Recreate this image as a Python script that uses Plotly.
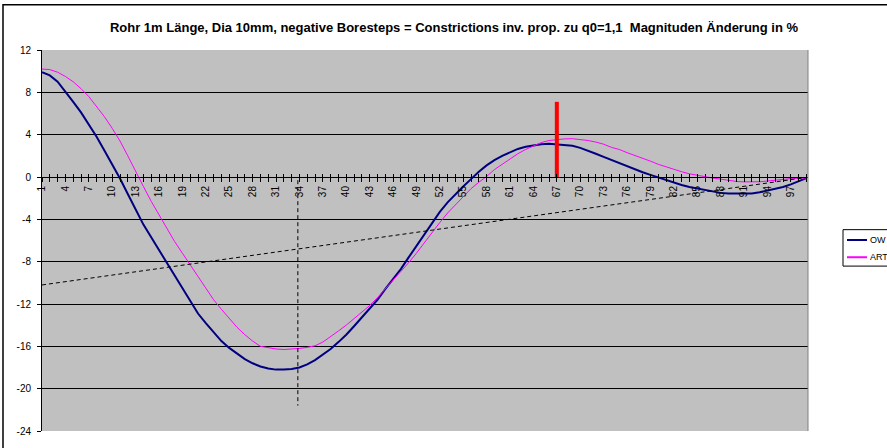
import plotly.graph_objects as go

# Category index along the pipe (1 .. 99)
categories = list(range(1, 100))

# Magnitude change in % for the two series
ow_values = [
    9.9, 9.6, 9.0, 8.1, 7.1, 6.1, 5.0, 3.8, 2.5, 1.2,
    -0.15, -1.6, -3.1, -4.5, -5.7, -6.9, -8.1, -9.3, -10.6, -11.8,
    -12.9, -13.8, -14.7, -15.5, -16.15, -16.7, -17.2, -17.6, -17.9, -18.1,
    -18.2, -18.2, -18.15, -18.0, -17.7, -17.3, -16.8, -16.25, -15.6, -14.9,
    -14.1, -13.3, -12.5, -11.6, -10.6, -9.7, -8.7, -7.6, -6.5, -5.5,
    -4.3, -3.3, -2.4, -1.6, -0.9, -0.2, 0.5, 1.1, 1.6, 2.0,
    2.35, 2.65, 2.85, 3.0, 3.1, 3.15, 3.1, 3.05, 2.95, 2.75,
    2.5, 2.2, 1.9, 1.6, 1.3, 1.0, 0.7, 0.45, 0.2, -0.05,
    -0.3, -0.55, -0.75, -0.95, -1.1, -1.25, -1.4, -1.5, -1.55, -1.57,
    -1.57, -1.55, -1.45, -1.3, -1.15, -0.95, -0.7, -0.4, -0.1,
]
art_values = [
    10.2, 10.15, 9.9, 9.5, 9.0, 8.35, 7.6, 6.7, 5.7, 4.6,
    3.4, 2.0, 0.5, -0.9, -2.3, -3.6, -4.9, -6.1, -7.2, -8.3,
    -9.4, -10.5, -11.6, -12.5, -13.4, -14.2, -14.9, -15.5, -16.0, -16.15,
    -16.25, -16.3, -16.28, -16.2, -16.1, -15.95, -15.6, -15.1, -14.55, -14.0,
    -13.4, -12.8, -12.15, -11.4, -10.6, -9.8, -9.0, -8.1, -7.2, -6.2,
    -5.2, -4.3, -3.4, -2.6, -1.8, -1.1, -0.5, 0.05, 0.7, 1.2,
    1.7, 2.2, 2.6, 2.95, 3.25, 3.45, 3.55, 3.6, 3.62, 3.55,
    3.45, 3.3, 3.1, 2.8, 2.6, 2.3, 2.05, 1.75, 1.5, 1.2,
    0.95, 0.7, 0.5, 0.3, 0.15, 0.0, -0.1, -0.2, -0.33, -0.42,
    -0.46, -0.47, -0.45, -0.38, -0.28, -0.2, -0.15, -0.12, -0.1,
]
series_names = ["OW", "ART"]

# Marker lines drawn over the curves
trend_x = [1, 99]
trend_y = [-10.2, -0.05]
min_marker_x = [33.8, 33.8]
min_marker_y = [-0.3, -21.6]
red_marker_x = [67, 67]
red_marker_y = [0, 7.1]

y_ticks = [12, 8, 4, 0, -4, -8, -12, -16, -20, -24]
x_range = [1, 99.2]

FONT = "Arial, Liberation Sans, sans-serif"
W, H = 887, 448
ML, MR, MT, MB = 42, 79, 50, 11
PW, PH = W - ML - MR, H - MT - MB


def px(x):
    return (x - ML) / PW


def py(y):
    return 1 - (y - MT) / PH


fig = go.Figure()

fig.add_trace(go.Scatter(
    x=categories, y=ow_values, mode="lines", name=series_names[0],
    line=dict(color="#000080", width=2), showlegend=False))
fig.add_trace(go.Scatter(
    x=categories, y=art_values, mode="lines", name=series_names[1],
    line=dict(color="#FF00FF", width=1), showlegend=False))
fig.add_trace(go.Scatter(
    x=trend_x, y=trend_y, mode="lines",
    line=dict(color="#000000", width=1, dash="4px,3px"), showlegend=False))
fig.add_trace(go.Scatter(
    x=min_marker_x, y=min_marker_y, mode="lines",
    line=dict(color="#000000", width=1, dash="4px,3px"), showlegend=False))
fig.add_trace(go.Scatter(
    x=red_marker_x, y=red_marker_y, mode="lines",
    line=dict(color="#FF0000", width=4), showlegend=False))
# empty trace that carries the upper half of the category tick marks
fig.add_trace(go.Scatter(
    x=x_range, y=[None, None], xaxis="x2", mode="lines",
    hoverinfo="skip", showlegend=False))

shapes = [
    # outer chart frame
    dict(type="rect", xref="paper", yref="paper", layer="below",
         x0=px(3), x1=px(W + 20), y0=py(H + 20), y1=py(4),
         line=dict(color="#000000", width=1.5), fillcolor="rgba(0,0,0,0)"),
    # right edge of the plot area
    dict(type="line", xref="paper", yref="paper", x0=1, x1=1, y0=0, y1=1,
         line=dict(color="#808080", width=1)),
    # legend box
    dict(type="rect", xref="paper", yref="paper",
         x0=px(843), x1=px(W + 30), y0=py(269.5), y1=py(232.5),
         line=dict(color="#000000", width=1), fillcolor="#FFFFFF"),
    dict(type="line", xref="paper", yref="paper",
         x0=px(847), x1=px(867), y0=py(243), y1=py(243),
         line=dict(color="#000080", width=2)),
    dict(type="line", xref="paper", yref="paper",
         x0=px(847), x1=px(867), y0=py(260.5), y1=py(260.5),
         line=dict(color="#FF00FF", width=2)),
]

annotations = [
    dict(xref="paper", yref="paper", x=px(868), y=py(243), text=series_names[0],
         showarrow=False, xanchor="left", yanchor="middle",
         font=dict(family=FONT, size=9, color="#000000")),
    dict(xref="paper", yref="paper", x=px(868), y=py(260.5), text=series_names[1],
         showarrow=False, xanchor="left", yanchor="middle",
         font=dict(family=FONT, size=9, color="#000000")),
]

fig.update_layout(
    width=W, height=H,
    margin=dict(l=ML, r=MR, t=MT, b=MB, pad=0),
    paper_bgcolor="#FFFFFF",
    plot_bgcolor="#C0C0C0",
    title=dict(
        text="<b>Rohr 1m Länge, Dia 10mm, negative Boresteps = Constrictions inv. prop. zu q0=1,1  Magnituden Änderung in %</b>",
        x=454 / W, xref="container", xanchor="center",
        y=1 - 27 / H, yref="container", yanchor="middle",
        font=dict(family=FONT, size=13, color="#000000")),
    xaxis=dict(
        range=x_range, anchor="free", position=24 / 36,
        showgrid=False, zeroline=False,
        showline=True, linecolor="#000000", linewidth=1,
        tickmode="linear", tick0=1, dtick=3,
        ticks="outside", ticklen=4, tickcolor="#000000", tickwidth=1,
        minor=dict(dtick=1, tick0=1, ticks="outside", ticklen=4,
                   tickcolor="#000000", showgrid=False),
        tickangle=-90,
        tickfont=dict(family=FONT, size=10, color="#000000"),
    ),
    xaxis2=dict(
        range=x_range, overlaying="x", anchor="free", position=24 / 36,
        showgrid=False, zeroline=False, showline=False,
        tickmode="linear", tick0=1, dtick=1,
        ticks="inside", ticklen=3, tickcolor="#000000", tickwidth=1,
        showticklabels=False,
    ),
    yaxis=dict(
        range=[-24, 12], tickvals=y_ticks, ticktext=[str(v) for v in y_ticks],
        showgrid=True, gridcolor="#000000", gridwidth=1,
        zeroline=False,
        showline=True, linecolor="#000000", linewidth=1,
        ticks="outside", ticklen=4, tickcolor="#000000",
        ticklabelstandoff=4,
        tickfont=dict(family=FONT, size=10, color="#000000"),
    ),
    shapes=shapes,
    annotations=annotations,
)

fig.write_html("out.html")
